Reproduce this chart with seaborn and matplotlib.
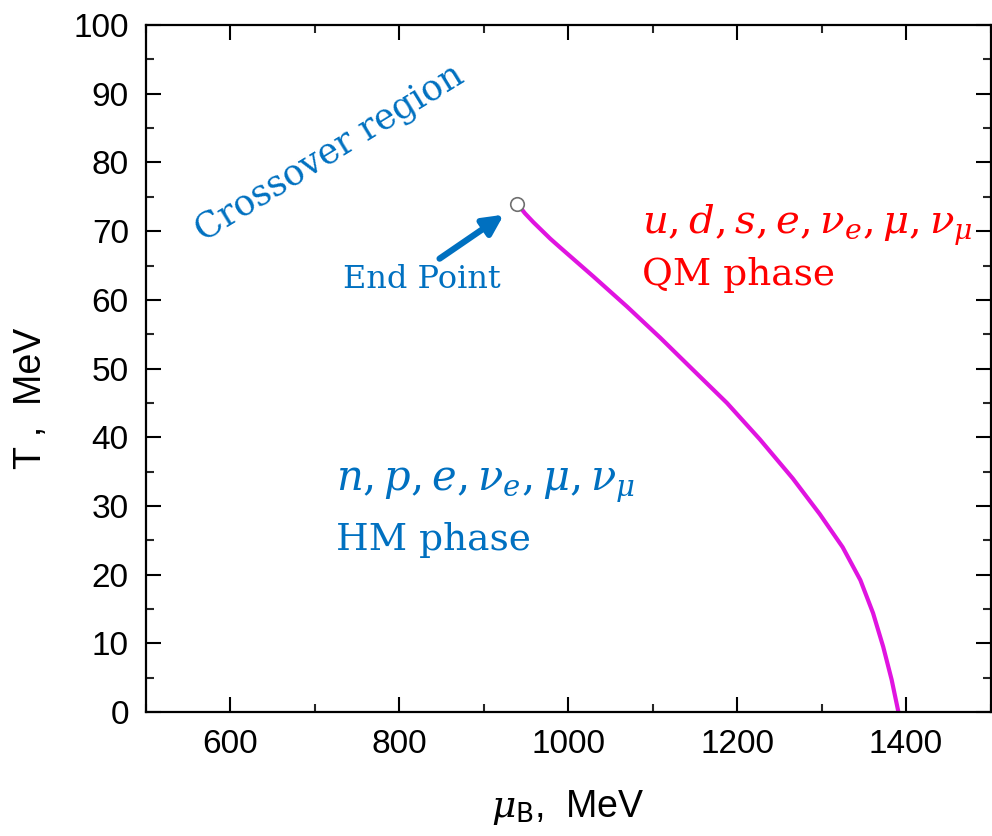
import numpy as np
import pandas as pd
import matplotlib
matplotlib.use("Agg")
import matplotlib.pyplot as plt
import seaborn as sns

# Phase boundary between hadronic matter and quark matter
mu_B = [940, 949, 959, 979, 990, 1030, 1070, 1109, 1148, 1188, 1227, 1266,
        1298, 1325, 1346, 1361, 1373, 1383, 1391]
T = [74.0, 72.6, 71.3, 68.9, 67.7, 63.4, 59.0, 54.5, 49.8, 45.0, 39.7, 34.0,
     28.8, 24.0, 19.2, 14.4, 9.5, 4.7, 0.0]

# Critical end point
end_mu = [940]
end_T = [74.0]

x_ticks = [600, 800, 1000, 1200, 1400]
y_ticks = [0, 10, 20, 30, 40, 50, 60, 70, 80, 90, 100]

sns.set_theme(style="ticks")
plt.rcParams["font.family"] = ["Liberation Sans", "DejaVu Sans"]
plt.rcParams["mathtext.fontset"] = "dejavuserif"

fig = plt.figure(figsize=(9.92, 8.36), dpi=100)
ax = fig.add_axes([0.1467, 0.1483, 0.8518, 0.8217])

curve = pd.DataFrame({"mu": mu_B, "T": T})
sns.lineplot(data=curve, x="mu", y="T", ax=ax, color="#E014E0", linewidth=3.0,
             sort=False, estimator=None, solid_joinstyle="round",
             solid_capstyle="butt")
ep = pd.DataFrame({"mu": end_mu, "T": end_T})
sns.scatterplot(data=ep, x="mu", y="T", ax=ax, s=95, facecolor="white",
                edgecolor="#707070", linewidth=1.2, zorder=5)

ax.set_xlim(500, 1500)
ax.set_ylim(0, 100)
ax.set_xticks(x_ticks)
ax.set_yticks(y_ticks)
ax.set_xticks(np.arange(500, 1501, 100), minor=True)
ax.set_yticks(np.arange(0, 101, 5), minor=True)
ax.tick_params(which="major", direction="in", length=11, width=1.5,
               top=True, right=True, labelsize=24, colors="black", pad=12)
ax.tick_params(which="minor", direction="in", length=6, width=1.5,
               top=True, right=True)
for sp in ax.spines.values():
    sp.set_linewidth(1.6)
    sp.set_color("black")

ax.set_xlabel(r"$\mu_{\mathsf{B}}$,  MeV", fontsize=27, color="black")
ax.set_ylabel("T ,  MeV", fontsize=27, color="black")
ax.xaxis.set_label_coords(0.5, -0.11)
ax.yaxis.set_label_coords(-0.114, 0.457)

blue = "#0070C0"
red = "#FF0000"
serif = ["DejaVu Serif"]

ax.text(718, 81.4, "Crossover region", color=blue, fontsize=25.5, family=serif,
        rotation=31.5, rotation_mode="anchor", ha="center", va="center")
ax.text(827, 62.9, "End Point", color=blue, fontsize=23, family=serif,
        ha="center", va="center")
ax.annotate("", xy=(924, 72.4), xytext=(848, 66.0),
            arrowprops=dict(arrowstyle="-|>,head_length=1.0,head_width=0.5",
                            color=blue, lw=4.5, shrinkA=0, shrinkB=0))

ax.text(1087, 70.8, r"$u, d, s, e, \nu_e, \mu, \nu_\mu$", color=red, fontsize=29,
        ha="left", va="center")
ax.text(1087, 63.6, "QM phase", color=red, fontsize=27, family=serif,
        ha="left", va="center")

ax.text(725, 33.0, r"$n, p, e, \nu_e, \mu, \nu_\mu$", color=blue, fontsize=30,
        ha="left", va="center")
ax.text(725, 25.0, "HM phase", color=blue, fontsize=27, family=serif,
        ha="left", va="center")

fig.savefig("out.png", dpi=100, facecolor="white")
